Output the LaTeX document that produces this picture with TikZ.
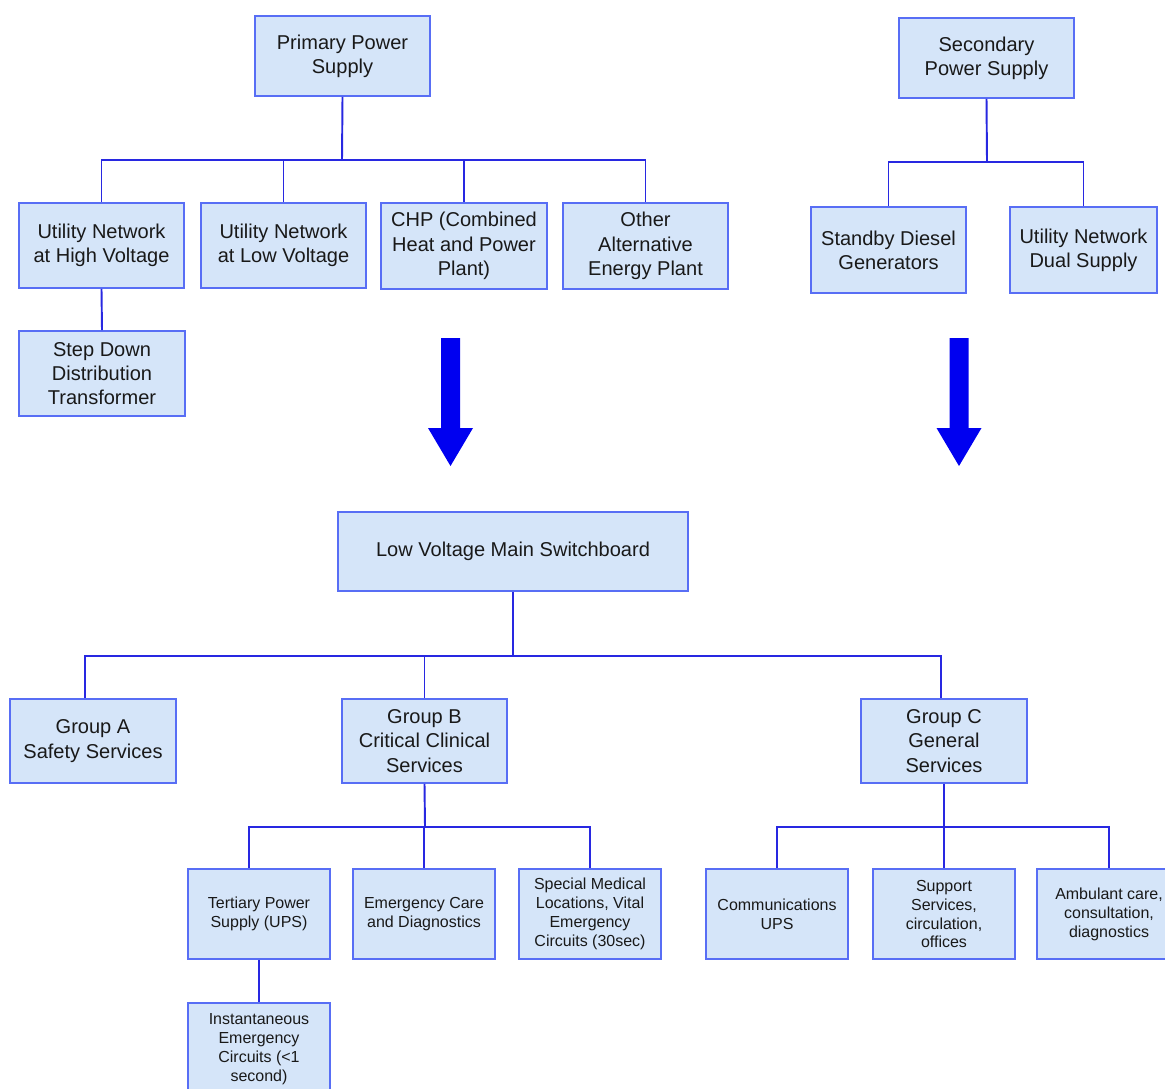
\documentclass[tikz,border=0pt]{standalone}
\usepackage{fontspec}
\setmainfont{Liberation Sans}
\usepackage{tikz}
\usetikzlibrary{positioning}
\definecolor{boxFill}{RGB}{213,229,249}
\definecolor{boxBorder}{RGB}{88,110,245}
\definecolor{lineColor}{RGB}{40,40,225}
\definecolor{arrowColor}{RGB}{0,0,240}
\definecolor{textColor}{RGB}{25,25,25}
\newcommand{\px}{0.02cm}
\tikzstyle{plan} = [x = 0.02cm, y = -0.02cm]
\tikzstyle{supplyStyle} = [draw=boxBorder, fill=boxFill, line width=1.1pt, align=center, inner sep=0pt, text=textColor, font=\fontsize{11.4}{13.8}\selectfont]
\tikzstyle{circuitStyle} = [supplyStyle, font=\fontsize{9.1}{10.8}\selectfont]
\tikzstyle{feedLine} = [color=lineColor, line width=1.1pt]
\newcommand{\supplyBox}[6]{\node [supplyStyle, minimum width=#4*\px, minimum height=#5*\px] (#1) at (#2,#3) {#6};}
\newcommand{\circuitBox}[6]{\node [circuitStyle, minimum width=#4*\px, minimum height=#5*\px] (#1) at (#2,#3) {#6};}
\newcommand{\powerArrow}[1]{\fill [arrowColor] (#1-9.5,338) -- (#1+9.5,338) -- (#1+9.5,428) -- (#1+22.5,428) -- (#1,466) -- (#1-22.5,428) -- (#1-9.5,428) -- cycle;}

\begin{document}
\begin{tikzpicture}[plan]
            \useasboundingbox (0,0) rectangle (1165,1088);
            \begin{scope}
            \clip (0,0) rectangle (1165,1088);

            % supplies
            \supplyBox{primary}{342.5}{56}{175}{80}{Primary Power\\Supply}
            \supplyBox{secondary}{986.5}{58}{175}{80}{Secondary\\Power Supply}
            \supplyBox{unHigh}{101.5}{245.5}{165}{85}{Utility Network\\at High Voltage}
            \supplyBox{unLow}{283.5}{245.5}{165}{85}{Utility Network\\at Low Voltage}
            \supplyBox{chp}{464}{246}{166}{86}{CHP (Combined\\Heat and Power\\Plant)}
            \supplyBox{other}{645.5}{246}{165}{86}{Other\\Alternative\\Energy Plant}
            \supplyBox{stepDown}{102}{373.5}{166}{85}{Step Down\\Distribution\\Transformer}
            \supplyBox{diesel}{888.5}{250}{155}{86}{Standby Diesel\\Generators}
            \supplyBox{dualSupply}{1083.5}{250}{147}{86}{Utility Network\\Dual Supply}

            \coordinate (primaryBus) at (342,160);
            \coordinate (secondaryBus) at (987,162);
            \draw [feedLine] (primary.south) -- (primaryBus);
            \foreach \n in {unHigh, unLow, chp, other}
              \draw [feedLine] (primaryBus) -| (\n.north);
            \draw [feedLine] (unHigh.south) -- (stepDown.north);
            \draw [feedLine] (secondary.south) -- (secondaryBus);
            \foreach \n in {diesel, dualSupply}
              \draw [feedLine] (secondaryBus) -| (\n.north);

            \powerArrow{450.5}
            \powerArrow{959}

            % distribution
            \supplyBox{mainBoard}{513}{551.5}{350}{79}{Low Voltage Main Switchboard}
            \supplyBox{groupA}{93}{741}{166}{84}{Group A\\Safety Services}
            \supplyBox{groupB}{424.5}{741}{165}{84}{Group B\\Critical Clinical\\Services}
            \supplyBox{groupC}{944}{741}{166}{84}{Group C\\General\\Services}

            \coordinate (mainBus) at (513,656);
            \draw [feedLine] (mainBoard.south) -- (mainBus);
            \draw [feedLine] (mainBus) -| ([xshift=-8*\px]groupA.north);
            \draw [feedLine] (mainBus) -| (groupB.north);
            \draw [feedLine] (mainBus) -| ([xshift=-3*\px]groupC.north);

            \circuitBox{tertiary}{259}{914}{142}{90}{Tertiary Power\\Supply (UPS)}
            \circuitBox{emergency}{424}{914}{142}{90}{Emergency Care\\and Diagnostics}
            \circuitBox{special}{590}{914}{142}{90}{Special Medical\\Locations, Vital\\Emergency\\Circuits (30sec)}
            \circuitBox{instant}{259}{1049}{142}{92}{Instantaneous\\Emergency\\Circuits (<1\\second)}
            \circuitBox{commsUps}{777}{914}{142}{90}{Communications\\UPS}
            \circuitBox{support}{944}{914}{142}{90}{Support\\Services,\\circulation,\\offices}
            \circuitBox{ambulant}{1109}{914}{144}{90}{Ambulant care,\\consultation,\\diagnostics}

            \coordinate (groupBBus) at (425,827);
            \coordinate (groupCBus) at (944,827);
            \draw [feedLine] (groupB.south) -- (groupBBus);
            \draw [feedLine] (groupBBus) -| ([xshift=-10*\px]tertiary.north);
            \draw [feedLine] (groupBBus) -| (emergency.north);
            \draw [feedLine] (groupBBus) -| (special.north);
            \draw [feedLine] (tertiary.south) -- (instant.north);
            \draw [feedLine] (groupC.south) -- (groupCBus);
            \foreach \n in {commsUps, support, ambulant}
              \draw [feedLine] (groupCBus) -| (\n.north);
            \end{scope}
          \end{tikzpicture}
\end{document}
